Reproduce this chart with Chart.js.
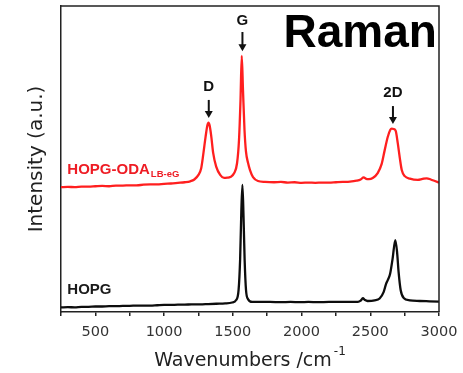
<!DOCTYPE html>
<html>
<head>
<meta charset="utf-8">
<script src="https://cdn.jsdelivr.net/npm/chart.js@4.4.1/dist/chart.umd.min.js"></script>
<style>
  body { margin: 0; background: #fff; }
  #wrap { width: 463px; height: 373px; }
</style>
</head>
<body>
<div id="wrap"><canvas id="ramanChart" width="463" height="373"></canvas></div>
<script>
// spectra (intensity in arbitrary units, 0..100 = plot height)
const redWn = [250, 300, 350, 400, 450, 500, 550, 600, 650, 700, 750, 800, 850, 900, 950, 1000,
  1050, 1100, 1150, 1190, 1220, 1250, 1270, 1285, 1302, 1315, 1323, 1331, 1343, 1357, 1379, 1408,
  1437, 1460, 1481, 1510, 1531, 1545, 1556, 1565, 1574, 1585, 1596, 1611, 1625, 1647, 1683, 1734,
  1800, 1850, 1900, 1950, 2000, 2050, 2100, 2150, 2200, 2250, 2300, 2352, 2400, 2430, 2452, 2470,
  2490, 2518, 2554, 2583, 2605, 2627, 2645, 2656, 2670, 2685, 2700, 2715, 2729, 2751, 2788, 2846,
  2880, 2911, 2940, 2970, 3000];
const redInt = [40.8, 40.9, 40.8, 41.0, 41.0, 41.1, 41.2, 41.1, 41.3, 41.3, 41.4, 41.4, 41.6, 41.7, 41.7, 41.9,
  42.0, 42.2, 42.4, 42.7, 43.3, 44.8, 47.0, 51.5, 57.3, 61.0, 61.9, 61.0, 57.5, 52.0, 47.5, 44.8,
  43.8, 43.9, 44.1, 45.4, 48.7, 56.2, 69.3, 83.7, 72.5, 59.5, 52.3, 48.7, 46.4, 44.1, 42.8, 42.5,
  42.4, 42.5, 42.3, 42.4, 42.2, 42.3, 42.2, 42.3, 42.3, 42.4, 42.5, 42.6, 42.9, 43.3, 44.0, 43.5,
  43.4, 43.8, 45.4, 48.4, 52.9, 57.2, 59.5, 59.9, 59.8, 59.2, 55.2, 50.3, 46.4, 44.4, 43.6, 43.2,
  43.5, 43.7, 43.3, 42.8, 42.3];

const blackWn = [250, 300, 350, 400, 450, 500, 550, 600, 650, 700, 750, 800, 850, 900, 950, 1000,
  1050, 1100, 1150, 1200, 1263, 1320, 1380, 1444, 1495, 1524, 1542, 1553, 1562, 1570, 1578, 1586,
  1596, 1611, 1640, 1700, 1770, 1850, 1920, 1988, 2050, 2120, 2200, 2279, 2350, 2410, 2430, 2446,
  2462, 2480, 2532, 2568, 2597, 2615, 2628, 2644, 2663, 2682, 2695, 2706, 2721, 2743, 2788, 2860,
  2930, 3000];
const blackInt = [1.5, 1.6, 1.5, 1.7, 1.7, 1.8, 1.8, 1.9, 1.9, 2.0, 2.0, 2.1, 2.1, 2.1, 2.2, 2.3,
  2.3, 2.4, 2.4, 2.5, 2.5, 2.6, 2.7, 2.8, 3.1, 3.9, 7.2, 17, 33, 41.5, 31, 17,
  7.2, 4.2, 3.3, 3.3, 3.3, 3.2, 3.3, 3.2, 3.3, 3.2, 3.3, 3.3, 3.3, 3.3, 3.7, 4.5,
  3.9, 3.6, 3.8, 4.4, 6.5, 9.2, 10.5, 12.4, 17.6, 23.5, 19.6, 13.1, 7.2, 4.6, 3.8, 3.6,
  3.5, 3.4];

const xTicks = [500, 1000, 1500, 2000, 2500, 3000];

// peak markers
const peakNames = ["D", "G", "2D"];
const peakWn = [1325, 1570, 2665];

const axisFont = "DejaVu Sans";
const boldFont = "Liberation Sans, Arial, sans-serif";

function toSeries(xs, ys) {
  return xs.map((x, i) => ({ x: x, y: ys[i] }));
}

const decorPlugin = {
  id: "decor",
  afterDatasetsDraw(chart) {
    const { ctx, chartArea, scales } = chart;
    const x = scales.x;
    const y = scales.y;
    ctx.save();

    // frame top and right
    ctx.strokeStyle = "#222";
    ctx.lineWidth = 1.5;
    ctx.beginPath();
    ctx.moveTo(chartArea.left, chartArea.top);
    ctx.lineTo(chartArea.right, chartArea.top);
    ctx.lineTo(chartArea.right, chartArea.bottom);
    ctx.stroke();

    // peak labels and arrows
    const labelY = [73.5, 95.1, 71.6];
    const arrowTop = [69.3, 91.5, 67.3];
    const arrowTip = [63.4, 85.2, 61.4];
    ctx.fillStyle = "#111";
    ctx.strokeStyle = "#111";
    ctx.font = "bold 15px " + boldFont;
    ctx.textAlign = "center";
    ctx.textBaseline = "middle";
    peakNames.forEach((name, i) => {
      const px = x.getPixelForValue(peakWn[i]);
      ctx.fillText(name, px, y.getPixelForValue(labelY[i]));
      const top = y.getPixelForValue(arrowTop[i]);
      const tip = y.getPixelForValue(arrowTip[i]);
      ctx.lineWidth = 2;
      ctx.beginPath();
      ctx.moveTo(px, top);
      ctx.lineTo(px, tip - 5);
      ctx.stroke();
      ctx.beginPath();
      ctx.moveTo(px - 4, tip - 7);
      ctx.lineTo(px + 4, tip - 7);
      ctx.lineTo(px, tip);
      ctx.closePath();
      ctx.fill();
    });

    // Raman
    ctx.font = "bold 46px " + boldFont;
    ctx.textAlign = "right";
    ctx.textBaseline = "alphabetic";
    ctx.fillStyle = "#000";
    ctx.fillText("Raman", x.getPixelForValue(2985), y.getPixelForValue(86.6));

    // sample labels
    ctx.textAlign = "left";
    ctx.font = "bold 15px " + boldFont;
    ctx.fillStyle = "#ee1c24";
    const rx = x.getPixelForValue(296);
    const ry = y.getPixelForValue(45.1);
    ctx.fillText("HOPG-ODA", rx, ry);
    const w = ctx.measureText("HOPG-ODA").width;
    ctx.font = "bold 9.5px " + boldFont;
    ctx.fillText("LB-eG", rx + w + 1, ry + 3.5);

    ctx.font = "bold 15px " + boldFont;
    ctx.fillStyle = "#1a1a1a";
    ctx.fillText("HOPG", rx, y.getPixelForValue(5.9));

    // x axis title with superscript
    ctx.fillStyle = "#222";
    ctx.font = "19px " + axisFont;
    const main = "Wavenumbers /cm";
    const mw = ctx.measureText(main).width;
    ctx.font = "12px " + axisFont;
    const sw = ctx.measureText("-1").width;
    const startX = (chartArea.left + chartArea.right) / 2 - (mw + sw + 2) / 2;
    ctx.font = "19px " + axisFont;
    ctx.fillText(main, startX, 366);
    ctx.font = "12px " + axisFont;
    ctx.fillText("-1", startX + mw + 2, 355);

    ctx.restore();
  }
};

const ctx = document.getElementById("ramanChart").getContext("2d");
new Chart(ctx, {
  type: "line",
  data: {
    datasets: [
      {
        label: "HOPG-ODA LB-eG",
        data: toSeries(redWn, redInt),
        borderColor: "#ff1f1f",
        borderWidth: 2.3,
        pointRadius: 0,
        cubicInterpolationMode: "monotone",
      },
      {
        label: "HOPG",
        data: toSeries(blackWn, blackInt),
        borderColor: "#0d0d0d",
        borderWidth: 2.3,
        pointRadius: 0,
        cubicInterpolationMode: "monotone",
      },
    ],
  },
  options: {
    responsive: false,
    animation: false,
    layout: { padding: { top: 6, right: 24, left: 0, bottom: 0 } },
    plugins: {
      legend: { display: false },
      tooltip: { enabled: false },
    },
    scales: {
      x: {
        type: "linear",
        min: 250,
        max: 3000,
        afterFit: (scale) => {
          scale.height = 61;
          scale.paddingLeft = 0;
          scale.paddingRight = 0;
        },
        afterBuildTicks: (scale) => {
          const t = [];
          for (let v = 250; v <= 3000; v += 250) t.push({ value: v });
          scale.ticks = t;
        },
        ticks: {
          autoSkip: false,
          maxRotation: 0,
          padding: 8,
          color: "#333",
          font: { family: axisFont, size: 14.5 },
          callback: (v) => (xTicks.includes(v) ? String(v) : ""),
        },
        grid: {
          drawOnChartArea: false,
          drawTicks: true,
          tickLength: 4,
          color: "#222",
          lineWidth: 1.5,
        },
        border: { display: true, color: "#222", width: 1.5 },
      },
      y: {
        min: 0,
        max: 100,
        afterFit: (scale) => { scale.width = 61; },
        ticks: { display: false },
        grid: { display: false },
        border: { display: true, color: "#222", width: 1.5 },
        title: {
          display: true,
          text: "Intensity (a.u.)",
          color: "#222",
          font: { family: axisFont, size: 20 },
          padding: { top: 25, bottom: 0 },
        },
      },
    },
  },
  plugins: [decorPlugin],
});
</script>
</body>
</html>
